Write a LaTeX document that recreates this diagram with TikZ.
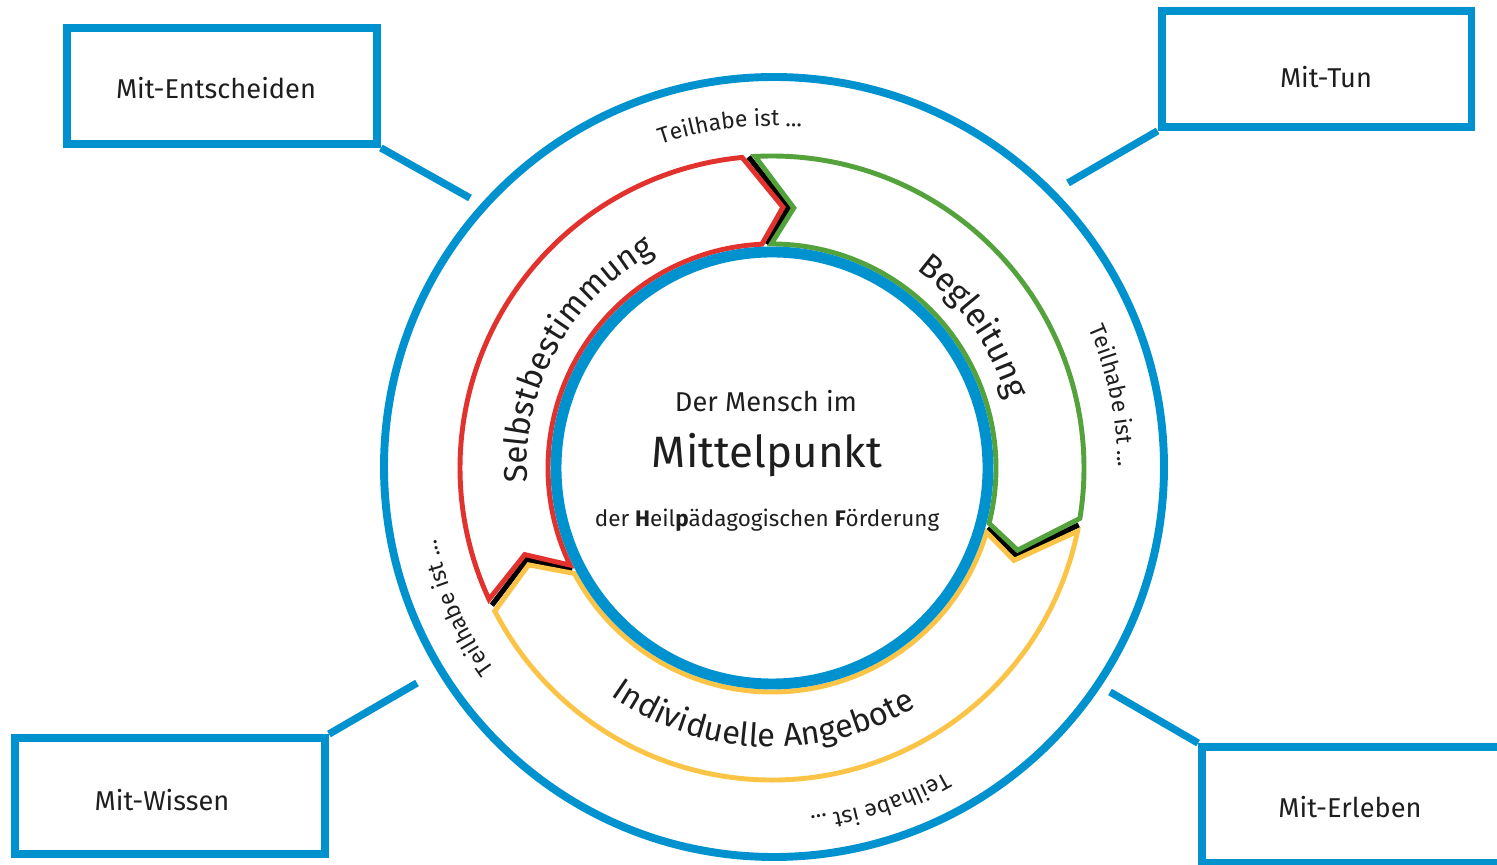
\documentclass[tikz,border=0pt]{standalone}
\usepackage{fontspec}
\setmainfont{Fira Sans}
\usetikzlibrary{decorations.text}
\definecolor{cblue}{RGB}{0,146,206}
\definecolor{cred}{RGB}{226,50,45}
\definecolor{cgreen}{RGB}{84,162,60}
\definecolor{cyellow}{RGB}{251,196,70}
\definecolor{ctext}{RGB}{30,30,30}
\begin{document}
\begin{tikzpicture}[x=0.02cm,y=0.02cm,
  mitbox/.style={draw=cblue, line width=4.5pt, minimum width=6.2cm, minimum height=2.32cm, inner sep=0pt},
  boxtext/.style={font=\fontsize{15.5}{18}\selectfont, text=ctext},
  link/.style={draw=cblue, line width=4.2pt},
  seg/.style={line width=2.8pt, line join=miter},
  shadowline/.style={draw=black, line width=3pt},
  ringlabel/.style={decorate, decoration={text along path, text align=center, text color=ctext}},
]
\clip (0,0) rectangle (1497,865);
% boxes
\node[mitbox, label={[boxtext, xshift=-0.12cm, yshift=-0.04cm]center:Mit-Entscheiden}] (ent) at (222,779) {};
\node[mitbox, label={[boxtext, xshift=0.19cm, yshift=-0.16cm]center:Mit-Tun}] (tun) at (1316.5,796) {};
\node[mitbox, label={[boxtext, xshift=-0.16cm, yshift=-0.08cm]center:Mit-Wissen}] (wis) at (170,69) {};
\node[mitbox, label={[boxtext, xshift=-0.14cm, yshift=-0.04cm]center:Mit-Erleben}] (erl) at (1357,60) {};
\coordinate (c1) at (470,667);
\coordinate (c2) at (1068,682);
\coordinate (c3) at (417,182);
\coordinate (c4) at (1110,173);
\draw[link] (ent.south east) -- (c1);
\draw[link] (tun.south west) -- (c2);
\draw[link] (wis.north east) -- (c3);
\draw[link] (erl.north west) -- (c4);
% outer circle
\draw[cblue, line width=4.5pt] (774,398) circle[radius=390];
\begin{scope}[shift={(772,397)}]
  % black shadows
  \draw[shadowline] (94.3:312) -- (86.4:261) -- (91.4:224);
  \draw[shadowline] (-10.5:312) -- (-19.7:259) -- (-15.5:224);
  \draw[shadowline] (206.1:312) -- (200.5:262) -- (206.9:224);
  % segments
  \draw[seg, cred] (204.9:312) arc[start angle=204.9, end angle=95.5, radius=312] -- (87.6:261) -- (92.6:224) arc[start angle=92.6, end angle=205.7, radius=224] -- (199.3:262) -- cycle;
  \draw[seg, cgreen] (93.1:312) arc[start angle=93.1, end angle=-9.3, radius=312] -- (-18.5:259) -- (-14.3:224) arc[start angle=-14.3, end angle=90.2, radius=224] -- (85.2:261) -- cycle;
  \draw[seg, cyellow] (-11.7:312) arc[start angle=-11.7, end angle=-152.7, radius=312] -- (-158.3:262) -- (-151.9:224) arc[start angle=-151.9, end angle=-16.7, radius=224] -- (-20.9:259) -- cycle;
  % inner circle
  \draw[cblue, line width=6.2pt] (0,0) circle[radius=216];
  % ring labels
  \path[ringlabel, decoration={text={|\fontsize{18.7}{22}\selectfont|Selbstbestimmung}}] (211:245) arc[start angle=211, end angle=91, radius=245];
  \path[ringlabel, decoration={text={|\fontsize{19}{22}\selectfont|Begleitung}}] (95:245) arc[start angle=95, end angle=-25, radius=245];
  \path[ringlabel, decoration={text={|\fontsize{18.5}{22}\selectfont|Individuelle Angebote}}] (208:279) arc[start angle=208, end angle=328, radius=279];
  % Teilhabe ist
  \path[ringlabel, decoration={text={|\fontsize{13}{15}\selectfont|Teilhabe ist ...}}] (157:342) arc[start angle=157, end angle=37, radius=342];
  \path[ringlabel, decoration={text={|\fontsize{13}{15}\selectfont|Teilhabe ist ...}}] (72:346) arc[start angle=72, end angle=-48, radius=346];
  \path[ringlabel, decoration={text={|\fontsize{13}{15}\selectfont|Teilhabe ist ...}}] (-12:350) arc[start angle=-12, end angle=-132, radius=350];
  \path[ringlabel, decoration={text={|\fontsize{13}{15}\selectfont|Teilhabe ist ...}}] (264:343) arc[start angle=264, end angle=144, radius=343];
\end{scope}
% centre text
\node[anchor=base, text=ctext, font=\fontsize{15.5}{19}\selectfont] (t1) at (766,453) {Der Mensch im};
\node[anchor=base, text=ctext, font=\fontsize{25}{30}\selectfont] (t2) at (767,397) {Mittelpunkt};
\node[anchor=base, text=ctext, font=\fontsize{12.8}{16}\selectfont] (t3) at (767,338) {der \textbf{H}eil\textbf{p}ädagogischen \textbf{F}örderung};
\end{tikzpicture}
\end{document}
